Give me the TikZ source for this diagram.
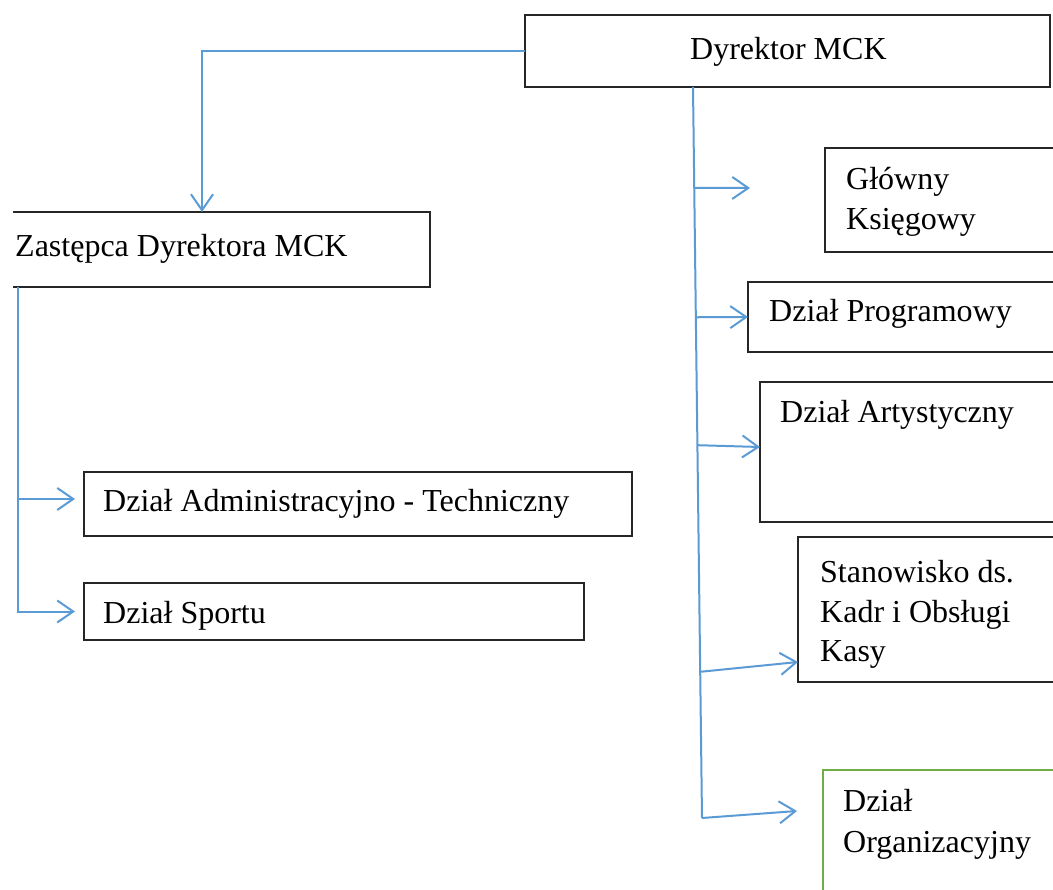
\documentclass[tikz,border=0pt]{standalone}
\usepackage{fontspec}
\setmainfont{Liberation Serif}
\usetikzlibrary{arrows.meta,calc}
\definecolor{conn}{RGB}{91,155,213}
\definecolor{grn}{RGB}{112,173,71}
\definecolor{edge}{RGB}{38,38,38}
\tikzset{
  orgbox/.style 2 args={draw=edge, line width=2.2pt, minimum width=#1, minimum height=#2,
    inner sep=0pt, outer sep=0pt, anchor=north west},
  lbl/.style={anchor=base west, inner sep=0pt, font=\fontsize{32}{40}\selectfont},
  link/.style={draw=conn, line width=2pt},
  arr/.style={link, -{Straight Barb[length=16pt,width=22pt]}},
}
\begin{document}
\begin{tikzpicture}[x=1pt,y=-1pt]
\useasboundingbox (0,0) rectangle (1053,890);
\fill[white] (0,0) rectangle (1053,890);

% boxes
\node[orgbox={525pt}{72pt}] (dyr) at (525,15) {};
\node[orgbox={417pt}{75pt}, draw=none] (zas) at (13,212) {};
\draw[edge, line width=2.2pt] (zas.north west) -- (zas.north east) -- (zas.south east) -- (zas.south west);
\node[orgbox={548pt}{64pt}] (adm) at (84,472) {};
\node[orgbox={500pt}{57pt}] (spo) at (84,583) {};
\node[orgbox={240pt}{104pt}] (gk) at (825,148) {};
\node[orgbox={315pt}{70pt}] (prog) at (748,282) {};
\node[orgbox={305pt}{140pt}] (art) at (760,382) {};
\node[orgbox={265pt}{145pt}] (sta) at (798,537) {};
\node[orgbox={240pt}{140pt}, draw=grn, line width=2pt] (org) at (823,770) {};

% texts
\node[lbl] (tdyr) at (690,60) {Dyrektor MCK};
\node[lbl] (tzas) at (15,257) {Zastępca Dyrektora MCK};
\node[lbl] (tadm) at (103,512) {Dział Administracyjno - Techniczny};
\node[lbl] (tspo) at (103,623) {Dział Sportu};
\node[lbl] (tgk1) at (846,190) {Główny};
\node[lbl] (tgk2) at (846,230) {Księgowy};
\node[lbl] (tprog) at (769,322) {Dział Programowy};
\node[lbl] (tart) at (780,423) {Dział Artystyczny};
\node[lbl] (tsta1) at (820,583) {Stanowisko ds.};
\node[lbl] (tsta2) at (820,622) {Kadr i Obsługi};
\node[lbl] (tsta3) at (820,661) {Kasy};
\node[lbl] (torg1) at (843,811) {Dział};
\node[lbl] (torg2) at (843,852) {Organizacyjny};

% connectors: director to deputy
\coordinate (zasin) at ($(zas.north west)+(189,0)$);
\draw[arr] (dyr.west) -| (zasin);

% deputy branch
\coordinate (zl) at ($(zas.south west)+(5,0)$);
\coordinate (admpt) at ($(zl)+(0,212)$);
\draw[link] (zl) -- (admpt);
\draw[arr, shorten >=9pt] (admpt) -- (admpt -| adm.west);
\draw[arr, shorten >=9pt] (admpt) |- (spo.west);

% director branch (slightly slanted trunk)
\coordinate (rt) at ($(dyr.south west)+(168,0)$);
\coordinate (rb) at (702,818);
\draw[link] (rt) -- (rb);
\coordinate (gkend) at (750,188);
\draw[arr] ($(rt)!0.138!(rb)$) -- (gkend);
\draw[arr] ($(rt)!0.315!(rb)$) -- (prog.west);
\draw[arr] ($(rt)!0.49!(rb)$) -- ($(art.west)+(0,-5)$);
\draw[arr] ($(rt)!0.80!(rb)$) -- ($(sta.south west)+(0,-20)$);
\coordinate (orgend) at (797,811);
\draw[arr] (rb) -- (orgend);
\end{tikzpicture}
\end{document}
